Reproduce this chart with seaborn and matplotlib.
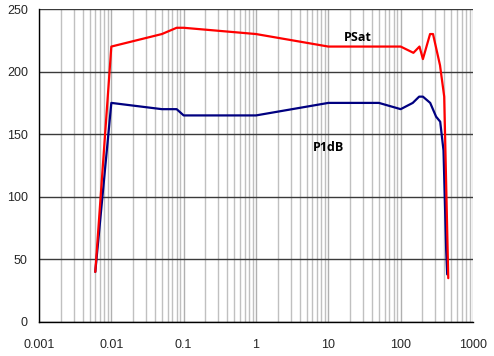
import numpy as np
import pandas as pd
import matplotlib
matplotlib.use("Agg")
import matplotlib.pyplot as plt
import matplotlib.ticker as mticker
import seaborn as sns

# Data (frequency, power)
psat_x = [0.006, 0.01, 0.05, 0.08, 0.1, 1, 10, 100, 150, 182, 203, 255, 280, 350, 400, 455]
psat_y = [40, 220, 230, 235, 235, 230, 220, 220, 215, 220, 210, 230, 230, 205, 180, 35]
p1db_x = [0.006, 0.01, 0.05, 0.08, 0.1, 1, 10, 50, 100, 147, 180, 203, 256, 309, 352, 391, 426, 440]
p1db_y = [40, 175, 170, 170, 165, 165, 175, 175, 170, 175, 180, 180, 175, 164, 160, 137, 57, 38]
x_ticks = [0.001, 0.01, 0.1, 1, 10, 100, 1000]
x_tick_labels = ["0.001", "0.01", "0.1", "1", "10", "100", "1000"]
y_ticks = [0, 50, 100, 150, 200, 250]

df = pd.concat([
    pd.DataFrame({"x": psat_x, "y": psat_y, "series": "PSat"}),
    pd.DataFrame({"x": p1db_x, "y": p1db_y, "series": "P1dB"}),
], ignore_index=True)

sns.set_style("white")
plt.rcParams["font.family"] = ["Liberation Sans", "DejaVu Sans"]

fig = plt.figure(figsize=(4.94, 3.56), dpi=100)
ax = fig.add_axes([39/494, 34/356, 434/494, 313/356])

ax.set_xscale("log")
sns.lineplot(data=df[df.series == "P1dB"], x="x", y="y", color="#000080",
             linewidth=1.6, sort=False, ax=ax, legend=False, zorder=3)
sns.lineplot(data=df[df.series == "PSat"], x="x", y="y", color="#ff0000",
             linewidth=1.6, sort=False, ax=ax, legend=False, zorder=4)

ax.set_xlim(0.001, 1000)
ax.set_ylim(0, 250)
ax.set_xticks(x_ticks)
ax.set_xticklabels(x_tick_labels)
ax.xaxis.set_minor_locator(mticker.LogLocator(base=10, subs=np.arange(2, 10), numticks=20))
ax.xaxis.set_minor_formatter(mticker.NullFormatter())
ax.set_yticks(y_ticks)

ax.grid(True, which="major", axis="x", color="#b0b0b0", linewidth=1.0, zorder=0)
ax.grid(True, which="minor", axis="x", color="#c0c0c0", linewidth=1.0, zorder=0)
ax.grid(True, which="major", axis="y", color="#3a3a3a", linewidth=1.0, zorder=1)

for s in ["top", "right"]:
    ax.spines[s].set_visible(False)
for s in ["left", "bottom"]:
    ax.spines[s].set_color("black")
    ax.spines[s].set_linewidth(1.0)

ax.tick_params(axis="both", which="major", direction="out", length=5, width=1,
               color="black", labelsize=9, pad=3)
ax.tick_params(axis="x", which="major", pad=7)
ax.tick_params(axis="x", which="minor", length=0)
ax.set_xlabel("")
ax.set_ylabel("")

ax.text(25.8, 227, "PSat", fontsize=9, fontweight="bold", ha="center", va="center",
        family=["Open Sans", "DejaVu Sans"], color="black")
ax.text(9.9, 139, "P1dB", fontsize=9, fontweight="bold", ha="center", va="center",
        family=["Open Sans", "DejaVu Sans"], color="black")

fig.savefig("out.png", dpi=100)
